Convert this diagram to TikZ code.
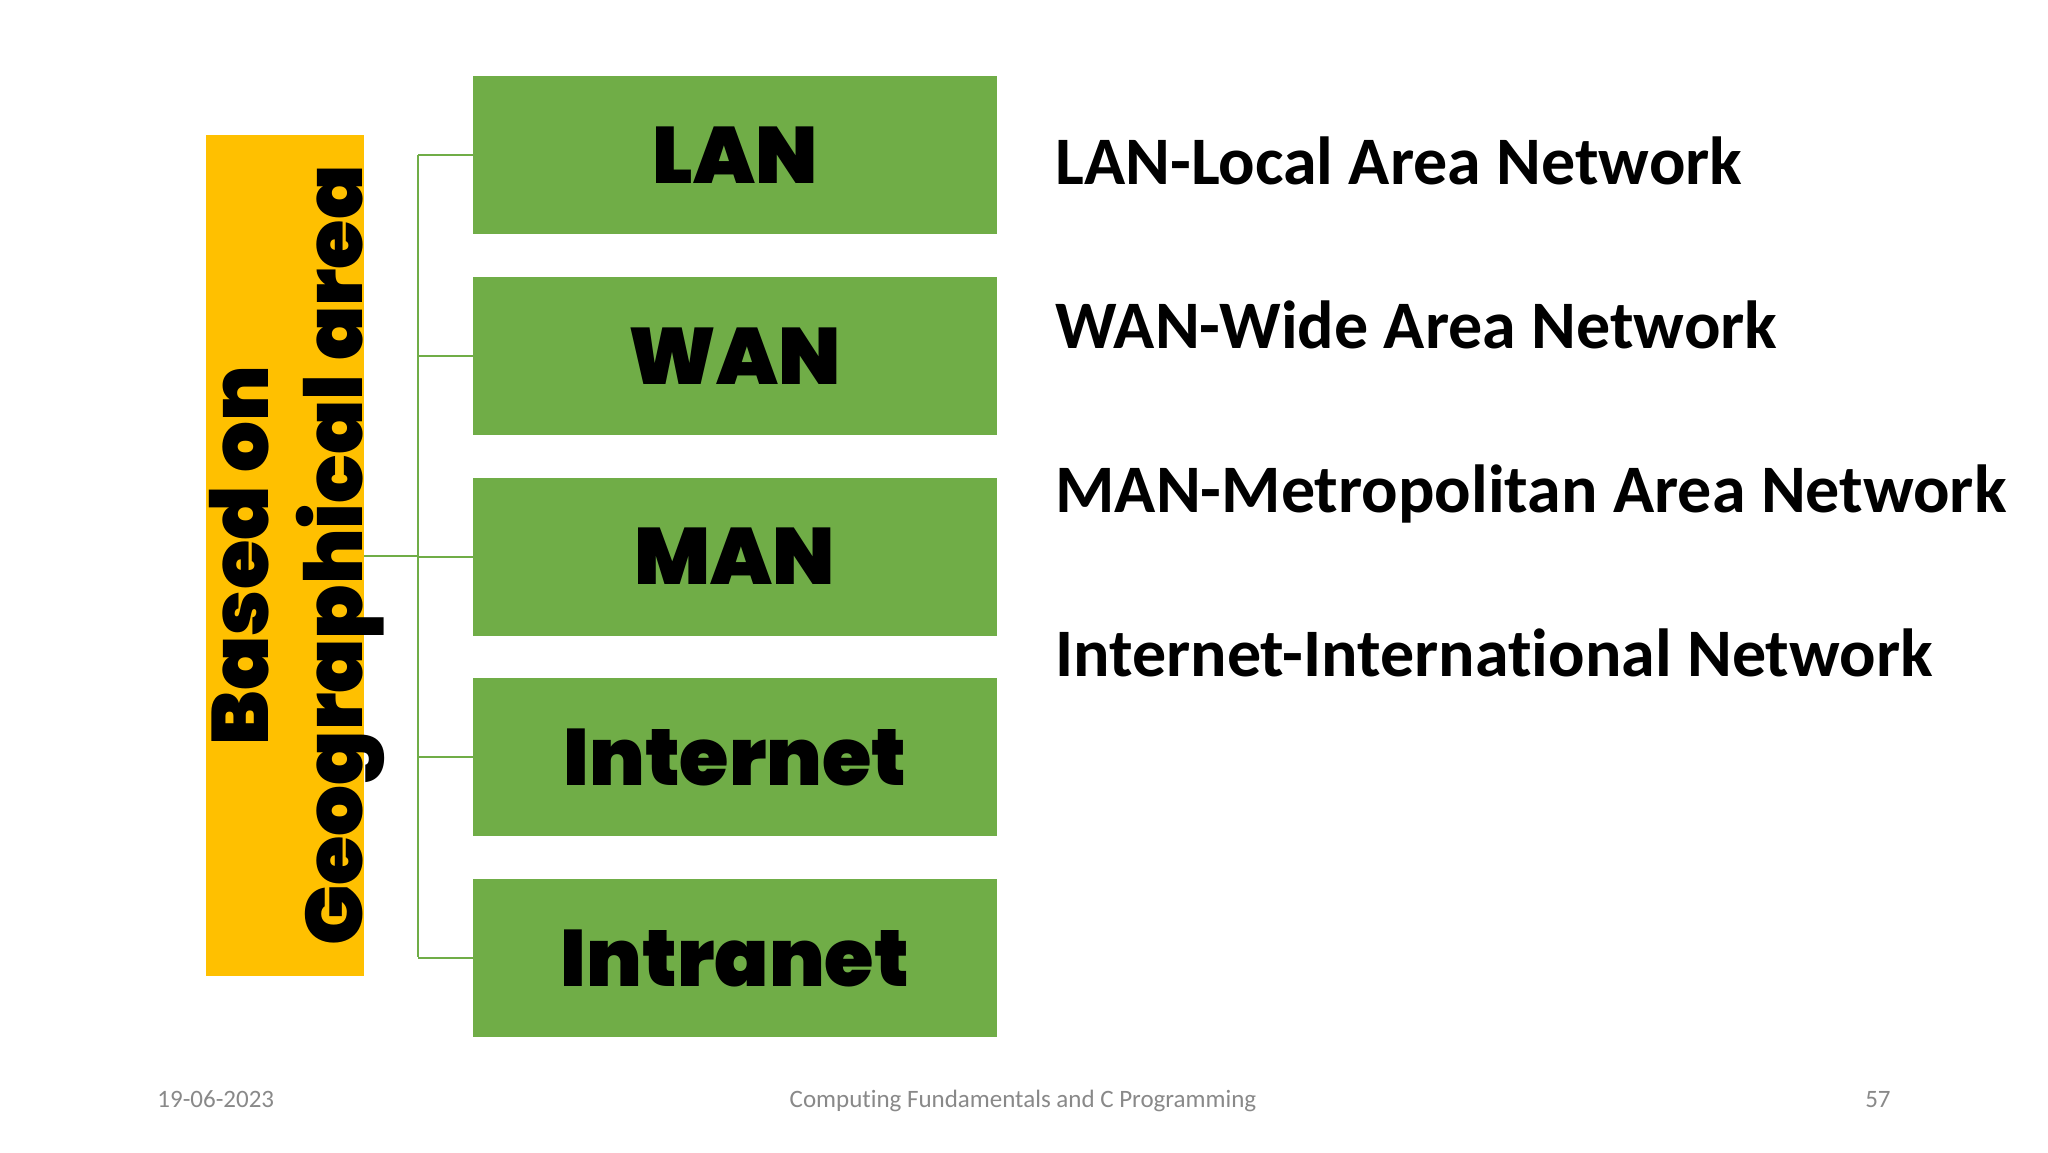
\documentclass[tikz,border=0pt]{standalone}
\usepackage{fontspec}
\setmainfont{Carlito}[Ligatures=NoCommon]
\newfontfamily\blackfont{Poppins Black}
\usetikzlibrary{positioning}

\definecolor{boxgreen}{HTML}{70AD47}
\definecolor{areayellow}{HTML}{FFC000}
\definecolor{footgray}{HTML}{898989}

\tikzset{
  netbox/.style={fill=boxgreen, minimum width=262pt, minimum height=79pt, inner sep=0pt,
    font=\blackfont\fontsize{40}{46}\selectfont},
  link/.style={draw=boxgreen, line width=1pt},
  desc/.style={anchor=base west, inner sep=0pt, font=\bfseries\fontsize{34}{40}\selectfont},
  foot/.style={anchor=base, inner sep=0pt, text=footgray, font=\fontsize{12.5}{15}\selectfont}
}

\begin{document}
\begin{tikzpicture}[x=0.5pt, y=-0.5pt]

   % page
   \fill [white] (0,0) rectangle (2048,1152);
   \useasboundingbox (0,0) rectangle (2048,1152);

   % left box
   \node [fill=areayellow, minimum width=79pt, minimum height=420.5pt, inner sep=0pt] (area) at (285,555.5) {};
   \node [rotate=90, align=center, inner sep=0pt, font=\blackfont\fontsize{40}{47}\selectfont] (arealabel) at ([xshift=6pt]area.center) {Based on\\Geographical area};

   % network boxes
   \node [netbox] (lan) at (735,155) {LAN};
   \node [netbox, below=21pt of lan] (wan) {WAN};
   \node [netbox, below=21pt of wan] (man) {MAN};
   \node [netbox, below=21pt of man] (internet) {Internet};
   \node [netbox, below=21pt of internet] (intranet) {Intranet};

   % connectors
   \coordinate (bustop) at (418,155);
   \coordinate (busbot) at (418,957);
   \draw [link] (bustop) -- (busbot);
   \foreach \b in {lan,wan,man,internet,intranet}
      \draw [link] (\b.west) -- (\b.west -| bustop);
   \draw [link] (area.east) -- (area.east -| bustop);

   % descriptions
   \node [desc] (landesc) at (1055,184) {LAN-Local Area Network};
   \node [desc] (wandesc) at (1055,348) {WAN-Wide Area Network};
   \node [desc] (mandesc) at (1055,512) {MAN-Metropolitan Area Network};
   \node [desc] (inetdesc) at (1055,676) {Internet-International Network};

   % footer
   \node [foot, anchor=base west] (date) at (157,1107) {19-06-2023};
   \node [foot] (title) at (1023,1107) {Computing Fundamentals and C Programming};
   \node [foot, anchor=base east] (page) at (1891,1107) {57};

\end{tikzpicture}
\end{document}
